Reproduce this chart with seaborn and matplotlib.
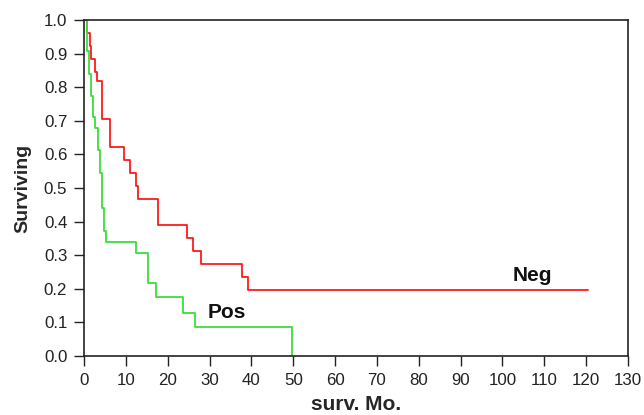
import matplotlib
matplotlib.use("Agg")
import matplotlib.pyplot as plt
import seaborn as sns
import pandas as pd

# Data (Kaplan-Meier style step curves)
neg_time = [0, 0.6, 1.35, 1.6, 2.6, 3.0, 4.4, 6.2, 9.6, 11.0, 12.4, 12.8, 17.6, 24.5, 26.1, 28.0, 37.8, 39.3, 120.5]
neg_surv = [1.0, 0.962, 0.923, 0.885, 0.846, 0.818, 0.706, 0.623, 0.583, 0.546, 0.507, 0.467, 0.391, 0.352, 0.313, 0.273, 0.234, 0.196, 0.196]

pos_time = [0, 0.64, 1.1, 1.6, 2.07, 2.55, 3.43, 3.9, 4.38, 4.86, 5.3, 12.35, 15.2, 17.1, 23.6, 26.5, 49.7]
pos_surv = [1.0, 0.907, 0.840, 0.774, 0.712, 0.680, 0.612, 0.546, 0.439, 0.373, 0.340, 0.307, 0.218, 0.175, 0.129, 0.085, 0.0]

groups = ["Neg", "Pos"]
colors = {"Neg": "#ff1a1a", "Pos": "#3ddd3d"}
x_ticks = list(range(0, 131, 10))
y_ticks = [i / 10 for i in range(0, 11)]

df = pd.concat([
    pd.DataFrame({"t": neg_time, "s": neg_surv, "group": "Neg"}),
    pd.DataFrame({"t": pos_time, "s": pos_surv, "group": "Pos"}),
], ignore_index=True)

sns.set_style("ticks")
plt.rcParams["font.family"] = ["Liberation Sans", "DejaVu Sans"]

fig = plt.figure(figsize=(6.44, 4.15), dpi=100)
ax = fig.add_axes([84 / 644, 1 - 356 / 415, (628 - 84) / 644, (356 - 20) / 415])

sns.lineplot(data=df, x="t", y="s", hue="group", palette=colors, hue_order=groups,
             drawstyle="steps-post", estimator=None, sort=False, legend=False,
             linewidth=1.3, ax=ax)

ax.set_xlim(0, 130)
ax.set_ylim(0, 1.0)
ax.set_xticks(x_ticks)
ax.set_yticks(y_ticks)
ax.set_yticklabels([f"{v:.1f}" for v in y_ticks])
ax.tick_params(direction="out", length=7, width=1, labelsize=12.2, colors="#222222")
ax.tick_params(axis="y", pad=5)
ax.tick_params(axis="x", pad=5.5)
for sp in ax.spines.values():
    sp.set_visible(True)
    sp.set_color("#222222")
    sp.set_linewidth(1.2)

ax.set_xlabel("surv. Mo.", fontsize=15, fontweight="bold", labelpad=4.5)
ax.set_ylabel("Surviving", fontsize=14, fontweight="bold", labelpad=9)

ax.text(107.1, 0.224, "Neg", fontsize=15, fontweight="bold", ha="center", va="baseline", color="#111111")
ax.text(34.2, 0.112, "Pos", fontsize=15, fontweight="bold", ha="center", va="baseline", color="#111111")

fig.savefig("out.png", dpi=100)
